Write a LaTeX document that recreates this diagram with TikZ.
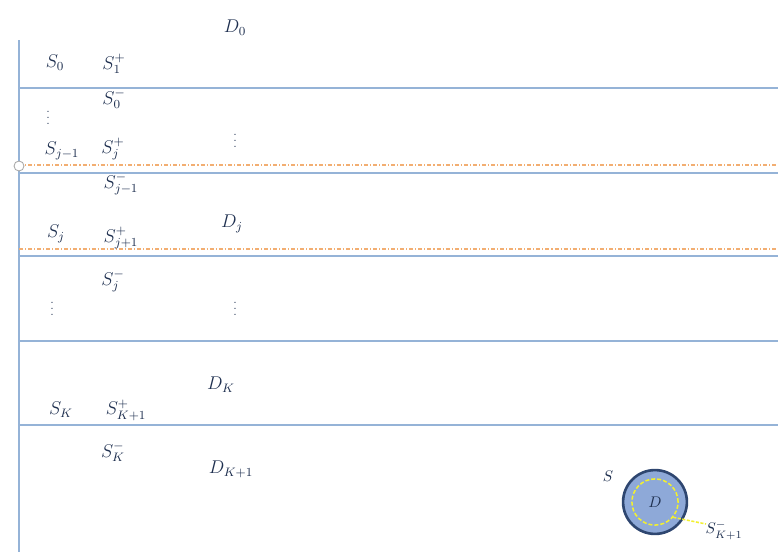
\documentclass[tikz,border=0pt]{standalone}
\usepackage{tikz}
\definecolor{linec}{HTML}{95B3D7}
\definecolor{orangec}{HTML}{F2AE72}
\definecolor{textc}{HTML}{1F3050}
\definecolor{fillc}{HTML}{8EA9D8}
\definecolor{borderc}{HTML}{2E4670}
\definecolor{yelc}{HTML}{F2F030}
\begin{document}
\begin{tikzpicture}[x=0.65pt,y=-0.65pt,
  lab/.style={inner sep=0pt,font=\large,text=textc},
  slab/.style={inner sep=0pt,font=\normalsize,text=textc},
  vd/.style={inner sep=0pt,font=\scriptsize,text=textc},
  hline/.style={draw=linec,line width=1.2pt},
  oline/.style={draw=orangec,line width=0.7pt,dash pattern=on 2.6pt off 1.3pt on 0.7pt off 1.3pt},
]
\useasboundingbox (0,0) rectangle (778,552);
% vertical axis
\coordinate (vt) at (19,40);
\coordinate (vb) at (19,552);
\draw[hline] (vt) -- (vb);
% horizontal lines
\foreach \y/\n in {88/a,173/b,256/c,341/d,425/e}{
  \coordinate (l\n) at (19,\y);
  \coordinate (r\n) at (778,\y);
  \draw[hline] (l\n) -- (r\n);
}
% dash-dot orange lines
\coordinate (o1l) at (19,165);
\coordinate (o1r) at (778,165);
\coordinate (o2l) at (19,249);
\coordinate (o2r) at (778,249);
\draw[oline] (o1l) -- (o1r);
\draw[oline] (o2l) -- (o2r);
\node[circle,draw=gray!70,line width=0.55pt,fill=white,minimum size=6.5pt,inner sep=0pt] (knot) at (19,166) {};
% labels
\node[lab] (D0) at (235,28) {$D_0$};
\node[lab] (S0) at (55,63) {$S_0$};
\node[lab] (S1p) at (114,64) {$S_1^+$};
\node[vd] (vd1) at (48,113) {$\vdots$};
\node[lab] (S0m) at (114,99) {$S_0^-$};
\node[vd] (vd2) at (235,136) {$\vdots$};
\node[lab] (Sj1) at (62,151) {$S_{j-1}$};
\node[lab] (Sjp) at (113,149) {$S_j^+$};
\node[lab] (Sj1m) at (121,184) {$S_{j-1}^-$};
\node[lab] (Dj) at (232,224) {$D_j$};
\node[lab] (Sj) at (56,234) {$S_j$};
\node[lab] (Sj1p) at (121,238) {$S_{j+1}^+$};
\node[lab] (Sjm) at (113,281) {$S_j^-$};
\node[vd] (vd3) at (52,304) {$\vdots$};
\node[vd] (vd4) at (235,304) {$\vdots$};
\node[lab] (DK) at (221,385) {$D_K$};
\node[lab] (SK) at (61,410) {$S_K$};
\node[lab] (SK1p) at (126,410) {$S_{K+1}^+$};
\node[lab] (SKm) at (113,452) {$S_K^-$};
\node[lab] (DK1) at (231,469) {$D_{K+1}$};
% inset circle
\node[circle,draw=borderc,fill=fillc,line width=1.7pt,minimum size=41.5pt,inner sep=0pt] (outer) at (655,502) {};
\node[circle,draw=yelc,dash pattern=on 2.6pt off 1.3pt,line width=1pt,minimum size=30pt,inner sep=0pt] (inner) at (655,502) {};
\node[slab] (Dl) at (655,502) {$D$};
\node[slab] (Sl) at (608,476) {$S$};
\node[slab] (SK1m) at (724,530) {$S_{K+1}^-$};
\coordinate (yend) at (706,524);
\draw[yelc,line width=1pt,dash pattern=on 2pt off 1pt] (inner.-40) -- (yend);
\end{tikzpicture}
\end{document}
